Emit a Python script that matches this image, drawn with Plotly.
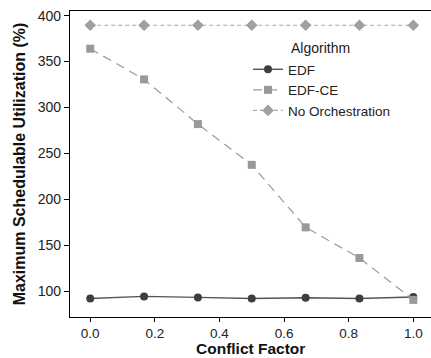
import plotly.graph_objects as go

conflict_factor = [0.0, 0.1667, 0.3333, 0.5, 0.6667, 0.8333, 1.0]
edf = [92.4, 94.6, 93.5, 92.4, 93.2, 92.4, 94.0]
edf_ce = [364, 330.6, 282, 237.7, 169.7, 136.4, 90.8]
no_orch = [389.5, 389.5, 389.5, 389.5, 389.5, 389.5, 389.5]

x_ticks = [0.0, 0.2, 0.4, 0.6, 0.8, 1.0]
y_ticks = [100, 150, 200, 250, 300, 350, 400]

FONT = "Liberation Sans, Arial, sans-serif"

fig = go.Figure()
fig.add_trace(go.Scatter(
    x=conflict_factor, y=edf, name="EDF", mode="lines+markers",
    line=dict(color="#555555", width=1.4, dash="solid"),
    marker=dict(symbol="circle", size=8, color="#3e3e3e"),
))
fig.add_trace(go.Scatter(
    x=conflict_factor, y=edf_ce, name="EDF-CE", mode="lines+markers",
    line=dict(color="#9a9a9a", width=1.2, dash="9px,6px"),
    marker=dict(symbol="square", size=8, color="#999999"),
))
fig.add_trace(go.Scatter(
    x=conflict_factor, y=no_orch, name="No Orchestration", mode="lines+markers",
    line=dict(color="#a8a8a8", width=1.2, dash="4px,3px"),
    marker=dict(symbol="diamond", size=9, color="#a0a0a0"),
))

H = 306  # plot height in px
fig.add_annotation(
    text="Algorithm", xref="paper", yref="paper",
    x=(289 - 70) / 361, y=(317 - 48) / H, xanchor="left", yanchor="middle",
    showarrow=False, font=dict(size=14, color="#222"),
)
fig.add_annotation(
    text="<b>Conflict Factor</b>", xref="paper", yref="paper",
    x=0.5, y=(317 - 358) / H, xanchor="center", yanchor="bottom",
    showarrow=False, borderpad=0, font=dict(size=15.5, color="#111"),
)

fig.update_layout(
    width=431, height=358,
    margin=dict(l=70, r=0, t=11, b=41),
    paper_bgcolor="white", plot_bgcolor="white",
    font=dict(family=FONT, size=14, color="#222222"),
    showlegend=True,
    legend=dict(
        x=(248 - 70) / 361, y=(317 - 54) / H, xanchor="left", yanchor="top",
        bgcolor="rgba(0,0,0,0)", font=dict(size=13.5, color="#222"),
        tracegroupgap=0, itemsizing="trace",
    ),
    xaxis=dict(
        range=[-0.0626, 1.0548], tickvals=x_ticks,
        ticktext=[f"{v:.1f}" for v in x_ticks],
        showgrid=False, zeroline=False,
        showline=True, linecolor="black", linewidth=1.4, mirror=True,
        ticks="outside", ticklen=4, tickcolor="black",
        tickfont=dict(size=13.5, color="#222"),
    ),
    yaxis=dict(
        range=[72.2, 405], tickvals=y_ticks,
        showgrid=False, zeroline=False,
        showline=True, linecolor="black", linewidth=1.4, mirror=False,
        ticks="outside", ticklen=5, tickcolor="black",
        tickfont=dict(size=14, color="#222"),
        title=dict(text="<b>Maximum Schedulable Utilization (%)</b>", font=dict(size=16, color="#111"), standoff=8),
    ),
)

fig.write_html(
    "out.html",
    config={"displayModeBar": False},
    post_script="document.body.style.margin='0';document.body.style.overflow='hidden';",
)
